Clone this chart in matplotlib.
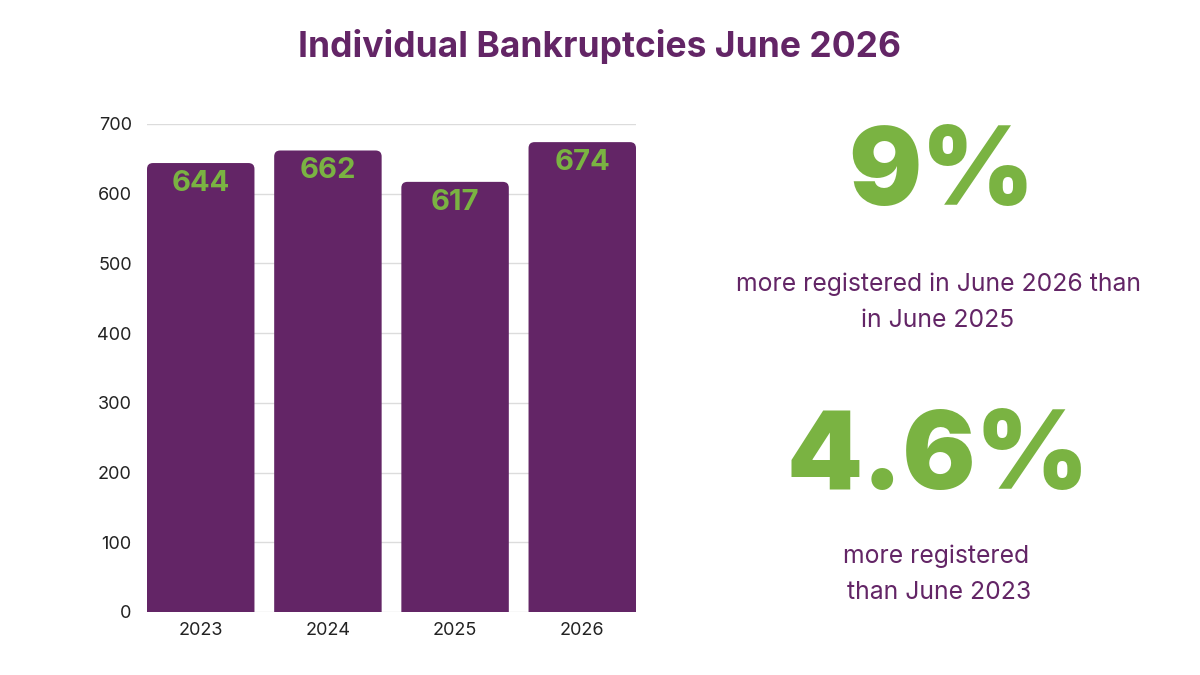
import matplotlib
matplotlib.use("Agg")
import matplotlib.pyplot as plt
from matplotlib.patches import FancyBboxPatch

years = ["2023", "2024", "2025", "2026"]
values = [644, 662, 617, 674]
yticks = [0, 100, 200, 300, 400, 500, 600, 700]
title = "Individual Bankruptcies June 2026"
stat1 = "9%"
stat1_text = "more registered in June 2026 than\nin June 2025"
stat2 = "4.6%"
stat2_text = "more registered\n than June 2023"

PURPLE = "#632566"
GREEN = "#7AB342"

fig = plt.figure(figsize=(12, 6.75), dpi=100)
fig.patch.set_facecolor("white")
ax = fig.add_axes([147/1200, 1-612/675, (636-147)/1200, (612-124)/675])

width = 0.845
x = list(range(len(years)))
bars = ax.bar(x, values, width=width, color=PURPLE, zorder=2)
ax.set_xlim(-width/2, len(years)-1+width/2)
ax.set_ylim(0, 700)

# rounded top corners: replace each bar rectangle with a rounded box
px_per_x = (636-147) / (len(years)-1+width)
px_per_y = (612-124) / 700
r_px = 6
rx = r_px / px_per_x
aspect = (r_px / px_per_y) / rx
for b in bars:
    b.set_visible(False)
    p = FancyBboxPatch((b.get_x(), -40), b.get_width(), b.get_height() + 40,
                       boxstyle=f"round,pad=0,rounding_size={rx}",
                       mutation_aspect=aspect, facecolor=PURPLE,
                       edgecolor="none", zorder=2, clip_on=True)
    ax.add_patch(p)

for xi, v in zip(x, values):
    ax.annotate(f"{v}", (xi, v), xytext=(0, -14.5), textcoords="offset points",
                ha="center", va="center", color=GREEN, fontsize=21,
                fontweight="bold", family="Inter", zorder=3)

ax.set_yticks(yticks)
ax.set_xticks(x)
ax.set_xticklabels(years)
ax.yaxis.grid(True, color="#dcdcdc", linewidth=1, zorder=0)
ax.set_axisbelow(True)
for s in ax.spines.values():
    s.set_visible(False)
ax.tick_params(axis="both", length=0, labelsize=13, colors="#222222")
ax.tick_params(axis="y", pad=11)
ax.tick_params(axis="x", pad=7)
for lab in ax.get_xticklabels() + ax.get_yticklabels():
    lab.set_family("Inter")

fig.text(0.5, 1-47/675, title, ha="center", va="center", color=PURPLE,
         fontsize=25.5, fontweight="bold", family="Inter")

fig.text(941/1200, 1-176/675, stat1, ha="center", va="center", color=GREEN,
         fontsize=78, fontweight="black", family="Inter")
fig.text(938/1200, 1-302.5/675, stat1_text, ha="center", va="center", color=PURPLE,
         fontsize=17.8, family="Inter", linespacing=1.7)
fig.text(938/1200, 1-461/675, stat2, ha="center", va="center", color=GREEN,
         fontsize=78, fontweight="black", family="Inter")
fig.text(936/1200, 1-574.5/675, stat2_text, ha="center", va="center", color=PURPLE,
         fontsize=17.8, family="Inter", linespacing=1.7)

fig.savefig("out.png", dpi=100, facecolor="white")
